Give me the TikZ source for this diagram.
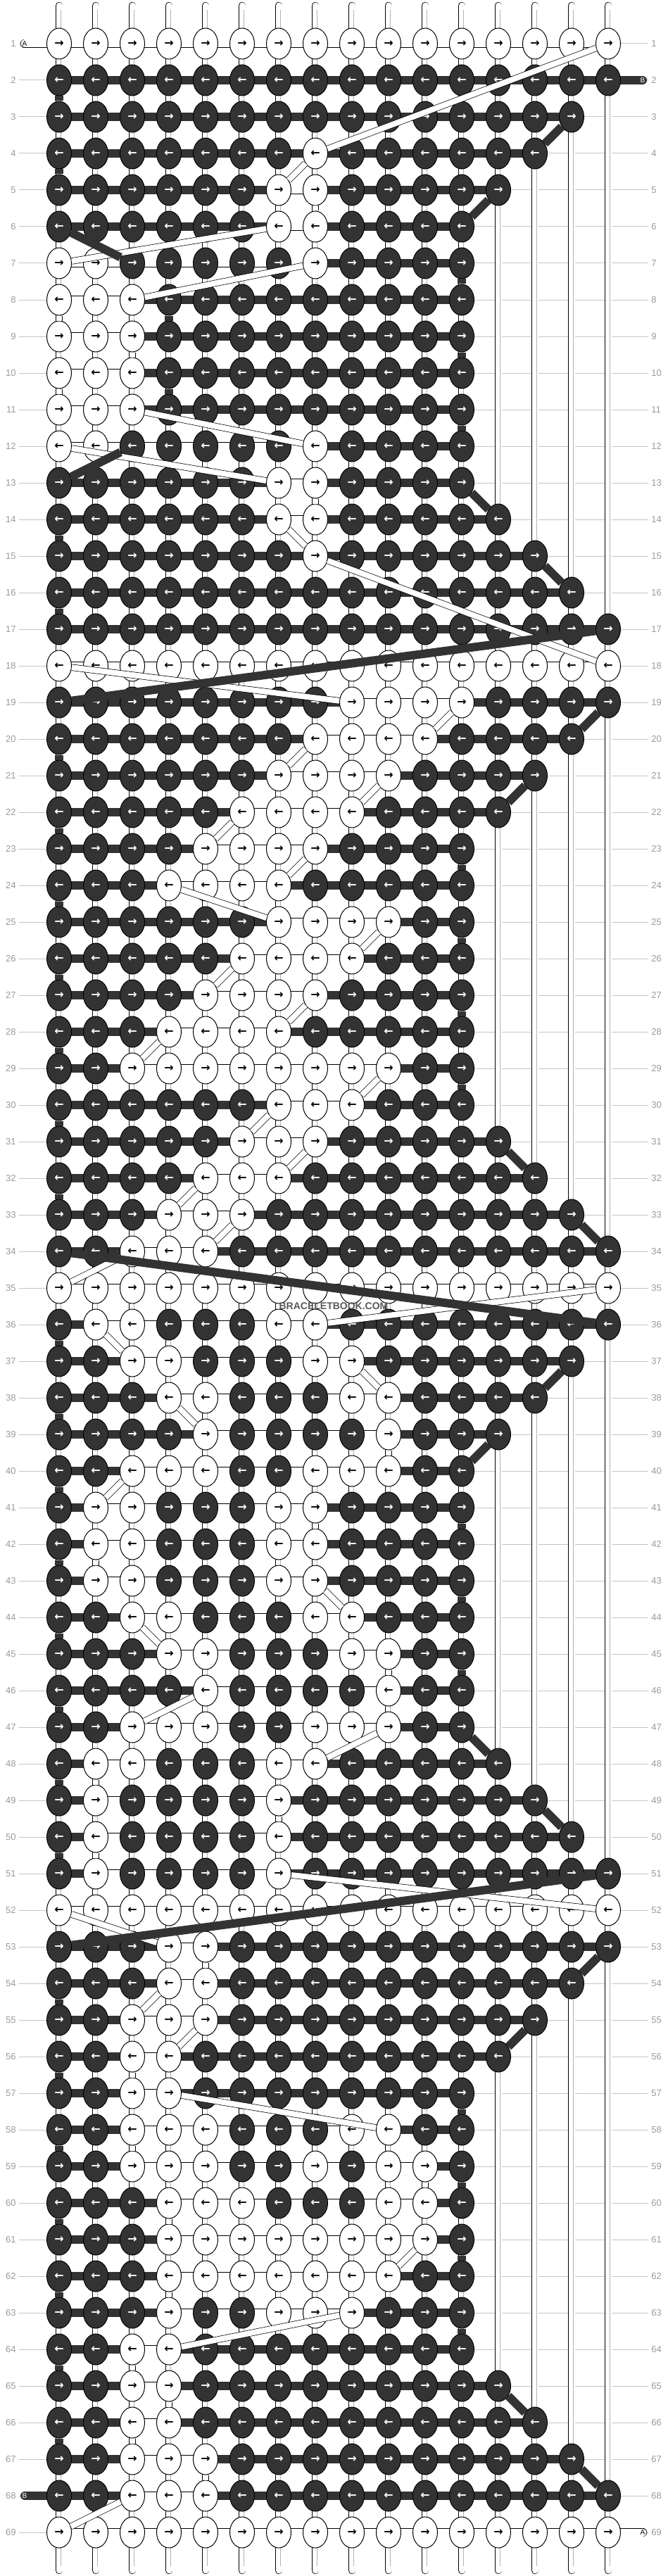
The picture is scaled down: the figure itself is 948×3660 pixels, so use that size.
\documentclass[tikz,border=0pt]{standalone}
\usepackage{fontspec}
\setmainfont{Liberation Sans}
\newfontfamily\arrowfont{DejaVu Sans}
\usetikzlibrary{shapes.geometric, backgrounds}
\definecolor{knotdark}{HTML}{333333}
\definecolor{gridgray}{HTML}{C4C4C4}
\definecolor{labgray}{HTML}{9A9A9A}
\pgfdeclarelayer{grid}
\pgfdeclarelayer{warp}
\pgfdeclarelayer{bar}
\pgfdeclarelayer{front}
\pgfsetlayers{grid,warp,bar,main,front}
\tikzset{
    knot/.style={ellipse, draw=black, line width=0.5pt, minimum width=17.5pt, minimum height=22pt, inner sep=0pt, font=\arrowfont\bfseries\fontsize{8}{8}\selectfont},
    knotw/.style={knot, fill=white, text=black},
    knotd/.style={knot, fill=knotdark, text=white},
    barw/.style={draw=black, line width=0.4pt, double=white, double distance=5.5pt},
    bard/.style={draw=knotdark, line width=6pt},
    wstr/.style={draw=black, line width=0.35pt, double=white, double distance=4pt},
    dstr/.style={draw=knotdark, line width=6pt},
    warpline/.style={draw=black, line width=0.4pt, double=white, double distance=4.5pt, line cap=round},
    warpmid/.style={draw=black!30, line width=0.3pt},
    rowline/.style={draw=gridgray, line width=0.5pt},
    rowlab/.style={text=labgray, font=\fontsize{6.5}{7}\selectfont, inner sep=0pt},
    tail/.style={font=\fontsize{5}{5}\selectfont, inner sep=0pt},
}
\begin{document}
\begin{tikzpicture}[x=0.5pt, y=-0.5pt]
    \useasboundingbox (0,0) rectangle (948,3660);

    % === WARP STRINGS ===
    \begin{pgfonlayer}{warp}
        \foreach \cc in {1,...,16}{
            \coordinate (wt-\cc) at ({84+(\cc-1)*52},8);
            \coordinate (wb-\cc) at ({84+(\cc-1)*52},3652);
            \draw[warpline] (wt-\cc) -- (wb-\cc);
            \draw[warpmid] ([shift={(2,6)}]wt-\cc) -- ([shift={(2,-6)}]wb-\cc);
        }
    \end{pgfonlayer}

    % === ROW NUMBERS ===
    \foreach \rr in {1,...,69}{
        \node[rowlab, anchor=east] (ll-\rr) at (23,{62+(\rr-1)*52}) {\rr};
        \node[rowlab, anchor=west] (lr-\rr) at (925,{62+(\rr-1)*52}) {\rr};
    }
    \begin{pgfonlayer}{grid}
        \foreach \rr in {1,...,69}
            \draw[rowline] ([xshift=2pt]ll-\rr.east) -- ([xshift=-2pt]lr-\rr.west);
    \end{pgfonlayer}

    % === KNOTS (w = light, d = dark) ===
    \foreach \row [count=\rr] in {
        {w,w,w,w,w,w,w,w,w,w,w,w,w,w,w,w},
        {d,d,d,d,d,d,d,d,d,d,d,d,d,d,d,d},
        {d,d,d,d,d,d,d,d,d,d,d,d,d,d,d},
        {d,d,d,d,d,d,d,w,d,d,d,d,d,d},
        {d,d,d,d,d,d,w,w,d,d,d,d,d},
        {d,d,d,d,d,d,w,w,d,d,d,d},
        {w,w,d,d,d,d,d,w,d,d,d,d},
        {w,w,w,d,d,d,d,d,d,d,d,d},
        {w,w,w,d,d,d,d,d,d,d,d,d},
        {w,w,w,d,d,d,d,d,d,d,d,d},
        {w,w,w,d,d,d,d,d,d,d,d,d},
        {w,w,d,d,d,d,d,w,d,d,d,d},
        {d,d,d,d,d,d,w,w,d,d,d,d},
        {d,d,d,d,d,d,w,w,d,d,d,d,d},
        {d,d,d,d,d,d,d,w,d,d,d,d,d,d},
        {d,d,d,d,d,d,d,d,d,d,d,d,d,d,d},
        {d,d,d,d,d,d,d,d,d,d,d,d,d,d,d,d},
        {w,w,w,w,w,w,w,w,w,w,w,w,w,w,w,w},
        {d,d,d,d,d,d,d,d,w,w,w,w,d,d,d,d},
        {d,d,d,d,d,d,d,w,w,w,w,d,d,d,d},
        {d,d,d,d,d,d,w,w,w,w,d,d,d,d},
        {d,d,d,d,d,w,w,w,w,d,d,d,d},
        {d,d,d,d,w,w,w,w,d,d,d,d},
        {d,d,d,w,w,w,w,d,d,d,d,d},
        {d,d,d,d,d,d,w,w,w,w,d,d},
        {d,d,d,d,d,w,w,w,w,d,d,d},
        {d,d,d,d,w,w,w,w,d,d,d,d},
        {d,d,d,w,w,w,w,d,d,d,d,d},
        {d,d,w,w,w,w,w,w,w,w,d,d},
        {d,d,d,d,d,d,w,w,w,d,d,d},
        {d,d,d,d,d,w,w,w,d,d,d,d,d},
        {d,d,d,d,w,w,w,d,d,d,d,d,d,d},
        {d,d,d,w,w,w,d,d,d,d,d,d,d,d,d},
        {d,d,w,w,w,d,d,d,d,d,d,d,d,d,d,d},
        {w,w,w,w,w,w,w,w,w,w,w,w,w,w,w,w},
        {d,w,w,d,d,d,w,w,d,d,d,d,d,d,d,d},
        {d,d,w,w,d,d,d,w,w,d,d,d,d,d,d},
        {d,d,d,w,w,d,d,d,w,w,d,d,d,d},
        {d,d,d,d,w,d,d,d,d,w,d,d,d},
        {d,d,w,w,w,d,d,w,w,w,d,d},
        {d,w,w,d,d,d,w,w,d,d,d,d},
        {d,w,w,d,d,d,w,w,d,d,d,d},
        {d,w,w,d,d,d,w,w,d,d,d,d},
        {d,d,w,w,d,d,d,w,w,d,d,d},
        {d,d,d,w,w,d,d,d,w,w,d,d},
        {d,d,d,d,w,d,d,d,d,w,d,d},
        {d,d,w,w,w,d,d,w,w,w,d,d},
        {d,w,w,d,d,d,w,w,d,d,d,d,d},
        {d,w,d,d,d,d,w,d,d,d,d,d,d,d},
        {d,w,d,d,d,d,w,d,d,d,d,d,d,d,d},
        {d,w,d,d,d,d,w,d,d,d,d,d,d,d,d,d},
        {w,w,w,w,w,w,w,w,w,w,w,w,w,w,w,w},
        {d,d,d,w,w,d,d,d,d,d,d,d,d,d,d,d},
        {d,d,d,w,w,d,d,d,d,d,d,d,d,d,d},
        {d,d,w,w,w,d,d,d,d,d,d,d,d,d},
        {d,d,w,w,d,d,d,d,d,d,d,d,d},
        {d,d,w,w,d,d,d,d,d,d,d,d},
        {d,d,w,w,w,d,d,d,w,w,d,d},
        {d,d,w,w,w,d,d,w,d,w,w,d},
        {d,d,d,w,w,w,d,d,d,w,w,d},
        {d,d,d,w,w,w,w,w,w,w,w,d},
        {d,d,d,w,w,w,w,w,w,w,d,d},
        {d,d,d,w,d,d,w,w,w,d,d,d},
        {d,d,w,w,d,d,d,d,d,d,d,d},
        {d,d,w,w,d,d,d,d,d,d,d,d,d},
        {d,d,w,w,d,d,d,d,d,d,d,d,d,d},
        {d,d,w,w,w,d,d,d,d,d,d,d,d,d,d},
        {d,d,w,w,w,d,d,d,d,d,d,d,d,d,d,d},
        {w,w,w,w,w,w,w,w,w,w,w,w,w,w,w,w}%
    }{
        \gdef\wa{0}\gdef\wb{0}
        \foreach \kk [count=\cc] in \row {
            \node[knot\kk] (k-\rr-\cc) at ({84+(\cc-1)*52},{62+(\rr-1)*52}) {\ifodd\rr →\else ←\fi};
            \if\kk w\ifnum\wa=0 \xdef\wa{\cc}\fi\xdef\wb{\cc}\fi
            \xdef\nn{\cc}
        }
        % remember row length and light span
        \expandafter\xdef\csname rown\rr\endcsname{\nn}
        \expandafter\xdef\csname rowa\rr\endcsname{\wa}
        \expandafter\xdef\csname rowb\rr\endcsname{\wb}
    }

    % === BARS: light inside the light span, dark elsewhere ===
    \begin{pgfonlayer}{bar}
        \foreach \rr in {1,...,69}{
            \edef\nn{\csname rown\rr\endcsname}
            \edef\wa{\csname rowa\rr\endcsname}
            \edef\wb{\csname rowb\rr\endcsname}
            \foreach \cc in {2,...,\nn}{
                \pgfmathtruncatemacro\cp{\cc-1}
                \def\bs{bard}
                \ifnum\wa>0 \ifnum\cp<\wa\relax\else\ifnum\cc>\wb\relax\else\def\bs{barw}\fi\fi\fi
                \draw[\bs] (k-\rr-\cp.center) -- (k-\rr-\cc.center);
            }
        }
        % string ends
        \coordinate (ta1) at (35,62);
        \coordinate (tb1) at (913,114);
        \coordinate (tb2) at (35,3546);
        \coordinate (ta2) at (913,3598);
        \draw[barw, line cap=round] (k-1-1.center) -- (ta1);
        \draw[bard, line cap=round] (k-2-16.center) -- (tb1);
        \draw[bard, line cap=round] (k-68-1.center) -- (tb2);
        \draw[barw, line cap=round] (k-69-16.center) -- (ta2);
    \end{pgfonlayer}
    \node[tail] (na1) at (ta1) {A};
    \node[tail, text=white] (nb1) at (tb1) {B};
    \node[tail, text=white] (nb2) at (tb2) {B};
    \node[tail] (na2) at (ta2) {A};

    % === STRING PATHS BETWEEN ROWS ===
    \begin{pgfonlayer}{front}
        % light string
        \foreach \ra/\ca/\rb/\cb in {1/16/4/8, 4/8/5/7, 5/8/6/8, 6/7/7/1, 7/8/8/3, 8/1/9/1, 9/3/10/3, 10/1/11/1,
            11/3/12/8, 12/1/13/7, 13/8/14/8, 14/7/15/8, 15/8/18/16, 18/1/19/9, 19/12/20/11, 20/8/21/7,
            21/10/22/9, 22/6/23/5, 23/8/24/7, 24/4/25/7, 25/10/26/9, 26/6/27/5, 27/8/28/7, 28/4/29/3,
            29/10/30/9, 30/7/31/6, 31/8/32/7, 32/5/33/4, 33/6/34/5, 34/3/35/1, 35/16/36/8, 36/2/37/3,
            37/9/38/10, 38/4/39/5, 39/10/40/10, 40/3/41/2, 41/8/42/8, 42/2/43/2, 43/8/44/9, 44/3/45/4,
            45/10/46/10, 46/5/47/3, 47/10/48/8, 48/2/49/2, 49/7/50/7, 50/2/51/2, 51/7/52/16, 52/1/53/4,
            53/5/54/5, 54/4/55/3, 55/5/56/4, 56/3/57/3, 57/4/58/10, 58/3/59/3, 59/11/60/11, 60/4/61/4,
            61/11/62/10, 62/4/63/4, 63/9/64/4, 64/3/65/3, 65/4/66/4, 66/3/67/3, 67/5/68/5, 68/3/69/1}
            \draw[wstr] (k-\ra-\ca) -- (k-\rb-\cb);
        % dark string
        \foreach \ra/\ca/\rb/\cb in {2/1/3/1, 3/15/4/14, 4/1/5/1, 5/13/6/12, 6/1/7/3, 7/12/8/12, 8/4/9/4,
            9/12/10/12, 10/4/11/4, 11/12/12/12, 12/3/13/1, 13/12/14/13, 14/1/15/1, 15/14/16/15, 16/1/17/1,
            17/16/19/1, 19/16/20/15, 20/1/21/1, 21/14/22/13, 22/1/23/1, 23/12/24/12, 24/1/25/1, 25/12/26/12,
            26/1/27/1, 27/12/28/12, 28/1/29/1, 29/12/30/12, 30/1/31/1, 31/13/32/14, 32/1/33/1, 33/15/34/16,
            34/1/36/16, 36/1/37/1, 37/15/38/14, 38/1/39/1, 39/13/40/12, 40/1/41/1, 41/12/42/12, 42/1/43/1,
            43/12/44/12, 44/1/45/1, 45/12/46/12, 46/1/47/1, 47/12/48/13, 48/1/49/1, 49/14/50/15, 50/1/51/1,
            51/16/53/1, 53/16/54/15, 54/1/55/1, 55/14/56/13, 56/1/57/1, 57/12/58/12, 58/1/59/1, 59/12/60/12,
            60/1/61/1, 61/12/62/12, 62/1/63/1, 63/12/64/12, 64/1/65/1, 65/13/66/14, 66/1/67/1, 67/15/68/16}
            \draw[dstr] (k-\ra-\ca) -- (k-\rb-\cb);
        \node[font=\bfseries\fontsize{7}{7}\selectfont, text=black!65, inner sep=0pt] (mark) at (474,1856) {BRACELETBOOK.COM};
    \end{pgfonlayer}

\end{tikzpicture}
\end{document}
